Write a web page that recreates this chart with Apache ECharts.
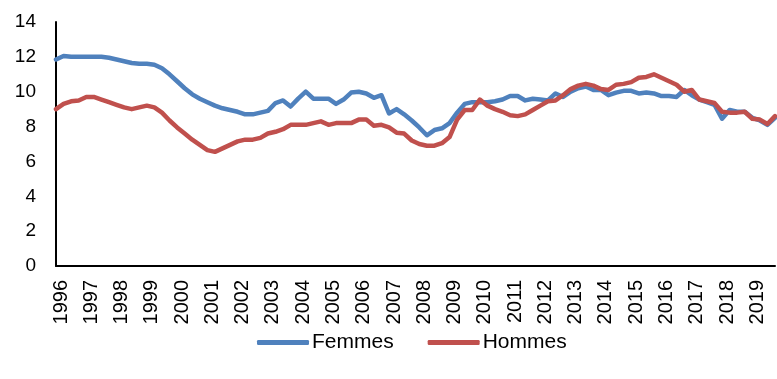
<!DOCTYPE html>
<html>
<head>
<meta charset="utf-8">
<script src="https://cdn.jsdelivr.net/npm/echarts@6/dist/echarts.min.js"></script>
<style>
  html, body { margin: 0; padding: 0; background: #fff; }
  #chart { width: 777px; height: 379px; }
</style>
</head>
<body>
<div id="chart"></div>
<script>
// Quarterly series, 1996 Q1 to 2019 Q4
const years = [1996, 1997, 1998, 1999, 2000, 2001, 2002, 2003, 2004, 2005, 2006, 2007,
               2008, 2009, 2010, 2011, 2012, 2013, 2014, 2015, 2016, 2017, 2018, 2019];
const quarters = ['T1', 'T2', 'T3', 'T4'];

const femmes = [
  11.85, 12.05, 12.0, 12.0, 12.0, 12.0, 12.0, 11.95,
  11.85, 11.75, 11.65, 11.6, 11.6, 11.55, 11.35, 11.0,
  10.6, 10.2, 9.85, 9.6, 9.4, 9.2, 9.05, 8.95,
  8.85, 8.7, 8.7, 8.8, 8.9, 9.35, 9.5, 9.15,
  9.6, 10.0, 9.6, 9.6, 9.6, 9.3, 9.55, 9.95,
  10.0, 9.9, 9.65, 9.8, 8.75, 9.0, 8.7, 8.35,
  7.95, 7.5, 7.8, 7.9, 8.2, 8.8, 9.3, 9.4,
  9.4, 9.4, 9.45, 9.55, 9.75, 9.75, 9.5, 9.6,
  9.55, 9.5, 9.9, 9.7, 10.0, 10.2, 10.3, 10.1,
  10.1, 9.8, 9.95, 10.05, 10.05, 9.9, 9.95, 9.9,
  9.75, 9.75, 9.7, 10.1, 9.8, 9.55, 9.4, 9.25,
  8.45, 8.95, 8.85, 8.85, 8.5, 8.35, 8.1, 8.5
];

const hommes = [
  9.0, 9.3, 9.45, 9.5, 9.7, 9.7, 9.55, 9.4,
  9.25, 9.1, 9.0, 9.1, 9.2, 9.1, 8.8, 8.35,
  7.95, 7.6, 7.25, 6.95, 6.65, 6.55, 6.75, 6.95,
  7.15, 7.25, 7.25, 7.35, 7.6, 7.7, 7.85, 8.1,
  8.1, 8.1, 8.2, 8.3, 8.1, 8.2, 8.2, 8.2,
  8.4, 8.4, 8.05, 8.1, 7.95, 7.65, 7.6, 7.2,
  7.0, 6.9, 6.9, 7.05, 7.4, 8.4, 8.95, 8.95,
  9.55, 9.2, 9.0, 8.85, 8.65, 8.6, 8.7, 8.95,
  9.2, 9.45, 9.5, 9.8, 10.15, 10.35, 10.45, 10.35,
  10.15, 10.1, 10.4, 10.45, 10.55, 10.8, 10.85, 11.0,
  10.8, 10.6, 10.4, 10.0, 10.1, 9.55, 9.45, 9.35,
  8.85, 8.8, 8.8, 8.85, 8.45, 8.4, 8.15, 8.6
];

const yTicks = [0, 2, 4, 6, 8, 10, 12, 14];

// One category per quarter; the year is shown on the first quarter
const categories = [];
years.forEach(y => quarters.forEach(q => categories.push(y + ' ' + q)));

const chart = echarts.init(document.getElementById('chart'), null, { renderer: 'canvas' });

const axisFont = 'Liberation Sans, Arial, sans-serif';

chart.setOption({
  animation: false,
  backgroundColor: '#ffffff',
  grid: { left: 56, right: 2, top: 22, bottom: 113, containLabel: false },
  legend: {
    bottom: 21,
    left: 252,
    itemWidth: 52,
    itemHeight: 5,
    itemGap: 34,
    icon: 'roundRect',
    textStyle: { fontFamily: 'Liberation Sans Narrow, Arial Narrow, Liberation Sans, sans-serif', fontSize: 21, color: '#000', padding: [0, 0, 0, -2] },
    data: ['Femmes', 'Hommes']
  },
  xAxis: {
    type: 'category',
    data: categories,
    boundaryGap: false,
    axisLine: { lineStyle: { color: '#000', width: 2 } },
    axisTick: { show: false },
    axisLabel: {
      interval: 3,
      rotate: 90,
      margin: 14,
      color: '#000',
      fontFamily: axisFont,
      fontSize: 20,
      verticalAlign: 'top',
      lineHeight: 10,
      formatter: v => v.split(' ')[0]
    },
    splitLine: { show: false }
  },
  yAxis: {
    type: 'value',
    min: yTicks[0],
    max: yTicks[yTicks.length - 1],
    interval: 2,
    axisLine: { show: true, lineStyle: { color: '#000', width: 2 } },
    axisTick: { show: false },
    axisLabel: { color: '#000', fontFamily: axisFont, fontSize: 19, margin: 20 },
    splitLine: { show: false }
  },
  series: [
    {
      name: 'Femmes',
      type: 'line',
      data: femmes,
      showSymbol: false,
      symbol: 'none',
      lineStyle: { color: '#4f81bd', width: 4.5, cap: 'round', join: 'round' },
      itemStyle: { color: '#4f81bd' },
      z: 2
    },
    {
      name: 'Hommes',
      type: 'line',
      data: hommes,
      showSymbol: false,
      symbol: 'none',
      lineStyle: { color: '#c0504d', width: 4.5, cap: 'round', join: 'round' },
      itemStyle: { color: '#c0504d' },
      z: 3
    }
  ]
});
</script>
</body>
</html>
